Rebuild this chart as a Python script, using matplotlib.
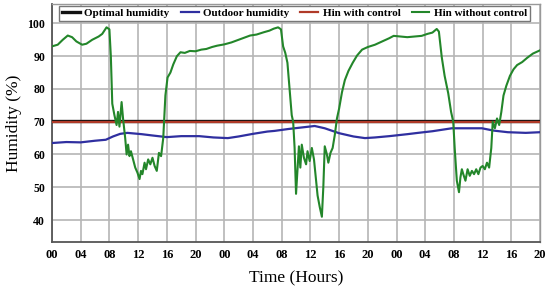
import matplotlib
matplotlib.use("Agg")
import matplotlib.pyplot as plt

# ---- data (hours from start, humidity %) ----
hours_green = [0, 0.8, 1.5, 2.2, 2.8, 3.4, 4.2, 4.8, 5.6, 6.5, 7.0, 7.6, 8.0, 8.2, 8.4, 8.7, 9.0, 9.2,
               9.4, 9.7, 9.9, 10.2, 10.4, 10.6, 10.8, 11.0, 11.3, 11.6, 11.9, 12.2, 12.4, 12.6, 12.9,
               13.1, 13.4, 13.7, 14.0, 14.3, 14.6, 14.9, 15.2, 15.5, 15.8, 16.1, 16.5, 16.9, 17.4,
               17.9, 18.5, 19.2, 20.0, 20.8, 21.5, 22.3, 23.0, 24.0, 25.0, 26.0, 27.0, 27.6, 28.5,
               29.5, 30.3, 30.9, 31.5, 31.9, 32.2, 32.5, 32.8, 33.1, 33.4, 33.6, 33.8, 34.0, 34.2,
               34.4, 34.6, 34.8, 35.1, 35.4, 35.6, 35.9, 36.2, 36.5, 36.8, 37.0, 37.3, 37.6, 37.8,
               38.0, 38.3, 38.5, 38.8, 39.1, 39.4, 39.7, 40.0, 40.4, 40.8, 41.3, 41.9, 42.5, 43.2,
               44.0, 45.0, 46.0, 47.0, 47.6, 48.5, 49.5, 50.5, 51.5, 52.3, 53.0, 53.6, 53.9, 54.3,
               54.7, 55.2, 55.6, 55.9, 56.1, 56.4, 56.7, 56.9, 57.1, 57.3, 57.6, 57.9, 58.2, 58.5,
               58.8, 59.1, 59.4, 59.7, 60.0, 60.3, 60.6, 60.9, 61.2, 61.4, 61.7, 62.0, 62.3, 62.6,
               62.9, 63.3, 63.8, 64.3, 64.8, 65.5, 66.2, 67.0, 68.0]
hin_without = [93.0, 93.5, 95.0, 96.3, 95.8, 94.5, 93.5, 93.8, 95.0, 96.0, 96.8, 98.8, 98.2, 90.0,
               75.5, 72.0, 69.0, 73.0, 68.5, 76.0, 71.0, 65.0, 60.0, 63.0, 59.5, 61.0, 58.5, 56.0,
               54.5, 52.5, 55.0, 54.0, 57.5, 55.5, 58.5, 57.0, 59.0, 56.5, 55.0, 60.5, 59.5, 65.0,
               78.0, 83.5, 85.0, 87.5, 90.0, 91.2, 91.0, 91.6, 91.5, 92.0, 92.2, 92.8, 93.2, 93.6,
               94.2, 95.0, 95.8, 96.3, 96.6, 97.3, 97.8, 98.4, 98.8, 98.2, 93.0, 91.0, 88.0, 80.0,
               72.0, 70.0, 62.0, 48.0, 55.0, 62.5, 56.0, 63.0, 59.0, 57.0, 61.0, 58.0, 62.0, 58.5,
               52.0, 47.5, 44.0, 41.0, 50.0, 62.5, 60.0, 57.5, 60.5, 62.0, 66.0, 71.0, 74.0, 79.0,
               82.7, 85.5, 88.0, 90.2, 92.0, 92.8, 93.5, 94.5, 95.5, 96.2, 96.0, 95.8, 96.0, 96.2,
               96.8, 97.2, 98.3, 97.5, 89.7, 84.0, 78.7, 73.0, 70.0, 62.0, 52.0, 48.5, 53.0, 55.5,
               54.0, 52.0, 55.5, 53.5, 55.0, 54.0, 55.5, 54.0, 56.0, 56.5, 55.5, 57.5, 56.0, 62.0,
               70.0, 68.0, 71.0, 69.0, 73.0, 78.0, 81.0, 84.0, 86.0, 87.3, 88.2, 89.5, 90.8, 91.8]

hours_blue = [0, 2, 4, 6, 7.5, 8.5, 9.5, 10.5, 11.5, 12.5, 14, 16, 18, 20.5, 22.5, 24.5, 26, 28,
              30, 31, 33, 35, 36.6, 38, 40, 42, 43.6, 45, 47, 49.5, 51, 53, 55.7, 57.5, 59.9,
              61.5, 63.5, 66, 68]
outdoor = [63.5, 63.8, 63.7, 64.2, 64.5, 65.5, 66.3, 66.6, 66.4, 66.2, 65.8, 65.3, 65.6, 65.6,
           65.2, 65.0, 65.5, 66.3, 67.0, 67.2, 67.8, 68.3, 68.7, 68.0, 66.5, 65.5, 65.0, 65.2,
           65.6, 66.2, 66.6, 67.1, 68.0, 68.0, 68.0, 67.3, 66.8, 66.6, 66.8]

hours_const = [0, 68]
optimal = [70.1, 70.1]
hin_with = [69.9, 69.9]

tick_hours = list(range(0, 69, 4))
tick_labels = ["00", "04", "08", "12", "16", "20"] * 3
ytick_vals = [40, 50, 60, 70, 80, 90, 100]

serif = ["Liberation Serif", "DejaVu Serif"]
plt.rcParams['font.family'] = serif

fig = plt.figure(figsize=(5.5, 2.91), dpi=100)
ax = fig.add_axes([0.0945, 0.1684, 0.8875, 0.8176])

ax.plot(hours_const, optimal, color="#111111", lw=2.4, label="Optimal humidity", zorder=3)
ax.plot(hours_blue, outdoor, color="#2f2fa0", lw=1.6, label="Outdoor humidity", zorder=3)
ax.plot(hours_const, hin_with, color="#b03a28", lw=1.6, label="Hin with control", zorder=4)
ax.plot(hours_green, hin_without, color="#23862a", lw=1.5, label="Hin without control", zorder=5)

ax.set_xlim(0, 68)
ax.set_ylim(33.3, 105.9)
ax.set_xticks(tick_hours)
ax.set_xticklabels(tick_labels)
ax.set_yticks(ytick_vals)
ax.tick_params(axis='both', length=0, pad=5)
ax.tick_params(axis='x', labelsize=9)
ax.tick_params(axis='y', labelsize=8.5)
for lab in ax.get_xticklabels() + ax.get_yticklabels():
    lab.set_fontweight('bold')
ax.grid(True, color="#b5b5b5", lw=1.2)
ax.set_axisbelow(True)
for s in ["left", "bottom"]:
    ax.spines[s].set_color("#555555")
    ax.spines[s].set_linewidth(1.3)
for s in ["top", "right"]:
    ax.spines[s].set_color("#999999")
    ax.spines[s].set_linewidth(1.0)

ax.set_xlabel("Time (Hours)", fontsize=12.5, labelpad=7)
ax.set_ylabel("Humidity (%)", fontsize=12.5, labelpad=4)

leg = ax.legend(loc="upper center", bbox_to_anchor=(0.497, 1.0), ncol=4, frameon=True,
                fancybox=False, edgecolor="#777777", framealpha=1.0, borderaxespad=0.15,
                prop={'family': serif, 'weight': 'bold', 'size': 8},
                handlelength=1.6, handletextpad=0.4, columnspacing=1.0, borderpad=0.25)
leg.get_frame().set_linewidth(1.0)

fig.savefig("out.png", dpi=100)
